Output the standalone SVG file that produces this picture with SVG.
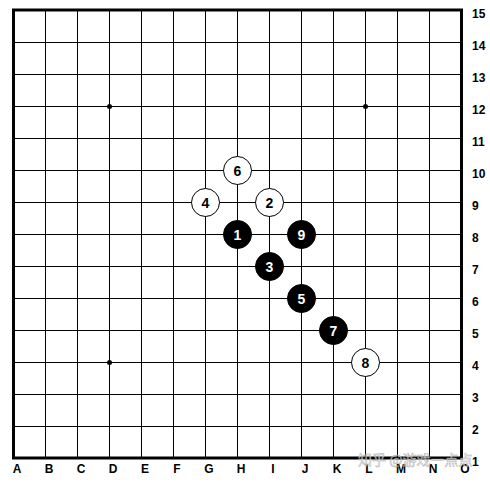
<svg xmlns="http://www.w3.org/2000/svg" width="490" height="484" viewBox="0 0 490 484">
<style>
.g{stroke:#000;stroke-width:1;fill:none}
.b{stroke:#000;stroke-width:3;fill:none}
.lab{font-family:"Liberation Sans",Arial,sans-serif;font-size:12px;font-weight:bold;fill:#000}
.w{fill:#fff;stroke:#000;stroke-width:1}
.k{fill:#000;stroke:#000;stroke-width:1}
.nw{font-family:"Liberation Sans",Arial,sans-serif;font-size:14px;font-weight:bold;fill:#000;text-anchor:middle}
.nk{font-family:"Liberation Sans",Arial,sans-serif;font-size:14px;font-weight:bold;fill:#fff;text-anchor:middle}
</style>
<rect width="490" height="484" fill="#fff"/>
<g id="grid">
<path class="g" d="M45.5 10V458M77.5 10V458M109.5 10V458M141.5 10V458M173.5 10V458M205.5 10V458M237.5 10V458M269.5 10V458M301.5 10V458M333.5 10V458M365.5 10V458M397.5 10V458M429.5 10V458"/>
<path class="g" d="M13 42.5H461M13 74.5H461M13 106.5H461M13 138.5H461M13 170.5H461M13 202.5H461M13 234.5H461M13 266.5H461M13 298.5H461M13 330.5H461M13 362.5H461M13 394.5H461M13 426.5H461"/>
<rect class="b" x="13.5" y="10" width="448" height="448"/>
<circle cx="109.5" cy="106.5" r="2.5" fill="#000"/>
<circle cx="365.5" cy="106.5" r="2.5" fill="#000"/>
<circle cx="109.5" cy="362.5" r="2.5" fill="#000"/>
</g>
<g id="col-labels" class="lab" text-anchor="middle">
<text x="17" y="473">A</text><text x="49" y="473">B</text><text x="81" y="473">C</text><text x="113" y="473">D</text><text x="145" y="473">E</text><text x="177" y="473">F</text><text x="209" y="473">G</text><text x="241" y="473">H</text><text x="273" y="473">I</text><text x="305" y="473">J</text><text x="337" y="473">K</text><text x="369" y="473">L</text><text x="401" y="473">M</text><text x="433" y="473">N</text><text x="465" y="473">O</text>
</g>
<g id="row-labels" class="lab">
<text x="472" y="18">15</text><text x="472" y="50">14</text><text x="472" y="82">13</text><text x="472" y="114">12</text><text x="472" y="146">11</text><text x="472" y="178">10</text><text x="472" y="210">9</text><text x="472" y="242">8</text><text x="472" y="274">7</text><text x="472" y="306">6</text><text x="472" y="338">5</text><text x="472" y="370">4</text><text x="472" y="402">3</text><text x="472" y="434">2</text><text x="472" y="466">1</text>
</g>
<g id="stone1"><circle class="k" cx="237.5" cy="234.5" r="14"/><text class="nk" x="237.5" y="239.5">1</text></g>
<g id="stone2"><circle class="w" cx="269.5" cy="202.5" r="14"/><text class="nw" x="269.5" y="207.5">2</text></g>
<g id="stone3"><circle class="k" cx="269.5" cy="266.5" r="14"/><text class="nk" x="269.5" y="271.5">3</text></g>
<g id="stone4"><circle class="w" cx="205.5" cy="202.5" r="14"/><text class="nw" x="205.5" y="207.5">4</text></g>
<g id="stone5"><circle class="k" cx="301.5" cy="298.5" r="14"/><text class="nk" x="301.5" y="303.5">5</text></g>
<g id="stone6"><circle class="w" cx="237.5" cy="170.5" r="14"/><text class="nw" x="237.5" y="175.5">6</text></g>
<g id="stone7"><circle class="k" cx="333.5" cy="330.5" r="14"/><text class="nk" x="333.5" y="335.5">7</text></g>
<g id="stone8"><circle class="w" cx="365.5" cy="362.5" r="14"/><text class="nw" x="365.5" y="367.5">8</text></g>
<g id="stone9"><circle class="k" cx="301.5" cy="234.5" r="14"/><text class="nk" x="301.5" y="239.5">9</text></g>
<g id="watermark">
<text x="358" y="465" font-family="'Noto Sans CJK SC',sans-serif" font-size="14" fill="#fff" stroke="#999" stroke-width="0.5" opacity="0.8">知乎 @游戏一点点</text>
</g>
</svg>
